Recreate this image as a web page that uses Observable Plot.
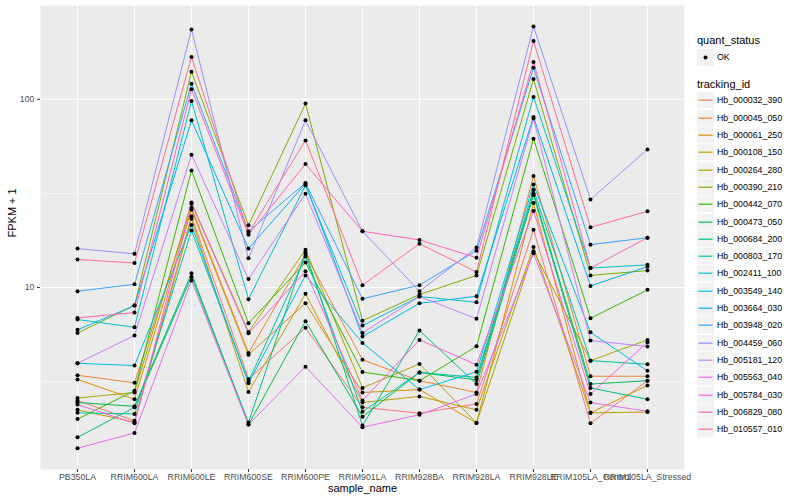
<!DOCTYPE html>
<html><head><meta charset="utf-8">
<script src="https://cdn.jsdelivr.net/npm/d3@7"></script>
<script src="https://cdn.jsdelivr.net/npm/@observablehq/plot@0.6"></script>
<style>
body{margin:0;background:#fff;font-family:"Liberation Sans",Arial,Helvetica,sans-serif;}
#wrap{position:relative;width:800px;height:500px;overflow:hidden;background:#fff}
#chart{position:absolute;left:0;top:0}
#legend{position:absolute;left:690px;top:0;width:110px;height:500px}
.lt{position:absolute;left:7px;font-size:11px;line-height:11px;color:#000;white-space:nowrap}
.key{position:absolute;left:7px;width:17px;height:17px;display:block}
.lab{position:absolute;left:27px;font-size:8.8px;line-height:9px;color:#000;white-space:nowrap}
</style></head><body>
<div id="wrap"><div id="chart"></div><div id="legend"></div></div>
<script>
const categories = ["PB350LA","RRIM600LA","RRIM600LE","RRIM600SE","RRIM600PE","RRIM901LA","RRIM928BA","RRIM928LA","RRIM928LE","RRIM105LA_Control","RRIM105LA_Stressed"];
const trackingIds = ["Hb_000032_390","Hb_000045_050","Hb_000061_250","Hb_000108_150","Hb_000264_280","Hb_000390_210","Hb_000442_070","Hb_000473_050","Hb_000684_200","Hb_000803_170","Hb_002411_100","Hb_003549_140","Hb_003664_030","Hb_003948_020","Hb_004459_060","Hb_005181_120","Hb_005563_040","Hb_005784_030","Hb_006829_080","Hb_010557_010"];
const colors = ["#F8766D","#EA8331","#D89000","#C09B00","#A3A500","#7CAE00","#39B600","#00BB4E","#00BF7D","#00C1A3","#00BFC4","#00BAE0","#00B0F6","#35A2FF","#9590FF","#C77CFF","#E76BF3","#FA62DB","#FF62BC","#FF6C91"];
const yTicks = [10, 100];

// FPKM + 1 per sample (order of categories)
const Hb_000032_390 = [2.51, 1.96, 23.9, 3.27, 6.11, 2.31, 2.15, 2.41, 20.3, 1.90, 3.20];
const Hb_000045_050 = [3.42, 3.12, 26.5, 4.49, 15.0, 4.13, 3.20, 2.77, 39.1, 3.38, 3.38];
const Hb_000061_250 = [3.25, 2.55, 25.9, 4.40, 8.25, 2.77, 2.87, 1.91, 28.1, 2.16, 3.02];
const Hb_000108_150 = [2.24, 1.93, 23.2, 2.79, 9.26, 2.45, 2.64, 2.24, 16.4, 2.16, 2.18];
const Hb_000264_280 = [2.59, 2.77, 28.3, 5.81, 15.9, 2.93, 3.93, 1.91, 15.6, 4.09, 5.27];
const Hb_000390_210 = [5.74, 8.02, 140, 21.4, 94.9, 6.67, 9.18, 11.6, 128, 11.6, 12.3];
const Hb_000442_070 = [2.00, 2.83, 41.9, 6.46, 13.6, 3.56, 3.20, 4.87, 61.8, 6.87, 9.72];
const Hb_000473_050 = [2.45, 2.34, 11.9, 1.87, 6.62, 2.06, 3.54, 3.23, 31.7, 3.07, 3.20];
const Hb_000684_200 = [1.60, 2.31, 11.4, 1.92, 15.4, 1.85, 5.91, 3.07, 30.9, 2.93, 2.55];
const Hb_000803_170 = [2.16, 2.13, 20.1, 3.17, 14.6, 2.19, 3.54, 3.33, 33.1, 4.09, 3.91];
const Hb_002411_100 = [6.76, 6.15, 97.9, 8.67, 34.9, 6.28, 8.96, 8.35, 103, 12.7, 13.2];
const Hb_003549_140 = [3.96, 3.85, 21.5, 3.10, 11.6, 5.08, 2.87, 3.57, 35.3, 5.78, 3.61];
const Hb_003664_030 = [5.96, 8.02, 77.3, 16.1, 35.6, 5.49, 8.25, 8.99, 80.5, 10.2, 12.9];
const Hb_003948_020 = [9.56, 10.4, 121, 19.9, 35.9, 8.71, 10.3, 15.7, 147, 16.9, 18.4];
const Hb_004459_060 = [16.1, 15.1, 235, 14.3, 77.3, 19.9, 9.56, 16.3, 244, 29.4, 54.2];
const Hb_005181_120 = [3.96, 5.56, 50.8, 11.1, 31.5, 5.74, 8.96, 6.82, 79.0, 5.23, 4.86];
const Hb_005563_040 = [1.40, 1.69, 10.9, 1.87, 3.80, 1.81, 2.11, 2.72, 15.2, 2.45, 2.20];
const Hb_005784_030 = [2.39, 1.90, 27.9, 5.71, 12.2, 2.51, 5.27, 3.89, 25.5, 2.72, 5.12];
const Hb_006829_080 = [6.90, 7.36, 113, 19.1, 45.3, 19.9, 17.9, 14.4, 158, 12.7, 18.4];
const Hb_010557_010 = [14.1, 13.5, 168, 19.5, 60.5, 10.3, 17.1, 12.1, 204, 20.9, 25.4];

const seriesValues = [Hb_000032_390,Hb_000045_050,Hb_000061_250,Hb_000108_150,Hb_000264_280,Hb_000390_210,Hb_000442_070,Hb_000473_050,Hb_000684_200,Hb_000803_170,Hb_002411_100,Hb_003549_140,Hb_003664_030,Hb_003948_020,Hb_004459_060,Hb_005181_120,Hb_005563_040,Hb_005784_030,Hb_006829_080,Hb_010557_010];

const rows = [];
trackingIds.forEach((id, i) => {
  seriesValues[i].forEach((v, j) => rows.push({id, sample: categories[j], fpkm: v, quant_status: "OK"}));
});

const font = '"Liberation Sans",Arial,Helvetica,sans-serif';
const chart = Plot.plot({
  width: 690, height: 500,
  marginLeft: 40, marginRight: 6, marginTop: 5, marginBottom: 31,
  style: {fontFamily: font, background: "white", overflow: "visible"},
  x: {type: "point", domain: categories, padding: 0.6},
  y: {type: "log", domain: [1.08, 315]},
  color: {domain: trackingIds, range: colors},
  marks: [
    Plot.frame({fill: "#EBEBEB", stroke: null}),
    Plot.gridY([Math.sqrt(10), Math.sqrt(1000)], {stroke: "white", strokeOpacity: 1, strokeWidth: 0.55}),
    Plot.gridY(yTicks, {stroke: "white", strokeOpacity: 1, strokeWidth: 1.1}),
    Plot.gridX(categories, {stroke: "white", strokeOpacity: 1, strokeWidth: 1.1}),
    Plot.line(rows, {x: "sample", y: "fpkm", z: "id", stroke: "id", strokeWidth: 1}),
    Plot.dot(rows, {x: "sample", y: "fpkm", r: 2, fill: "black", stroke: null}),
    Plot.axisY(yTicks, {tickSize: 3, tickPadding: 3, stroke: "#333333", fill: "#4D4D4D", fontSize: 8.8, label: null, tickFormat: d => String(d)}),
    Plot.axisX({tickSize: 3, tickPadding: 1.5, stroke: "#333333", fill: "#4D4D4D", fontSize: 8.8, label: null}),
    Plot.text(["sample_name"], {frameAnchor: "bottom", lineAnchor: "middle", dy: 19, fontSize: 11, fill: "black", text: d => d}),
    Plot.text(["FPKM + 1"], {frameAnchor: "left", rotate: -90, dx: -28, lineAnchor: "middle", fontSize: 11, fill: "black", text: d => d})
  ]
});
document.getElementById("chart").appendChild(chart);

// legend
const lg = document.getElementById("legend");
function add(html) { lg.insertAdjacentHTML("beforeend", html); }
add(`<div class="lt" style="top:35px">quant_status</div>`);
add(`<svg class="key" style="top:49px" width="17" height="17"><rect width="17" height="17" fill="#F2F2F2"/><circle cx="8.5" cy="8.5" r="2" fill="#000"/></svg>`);
add(`<div class="lab" style="top:53px">OK</div>`);
add(`<div class="lt" style="top:78.5px">tracking_id</div>`);
trackingIds.forEach((id, i) => {
  const top = Math.round(92.4 + i * 17.3);
  add(`<svg class="key" style="top:${top}px" width="17" height="17"><rect width="17" height="16.3" fill="#F2F2F2"/><line x1="1.5" x2="15.5" y1="8.2" y2="8.2" stroke="${colors[i]}" stroke-width="1.2"/></svg>`);
  add(`<div class="lab" style="top:${top + 4}px">${id}</div>`);
});
</script>
</body></html>
